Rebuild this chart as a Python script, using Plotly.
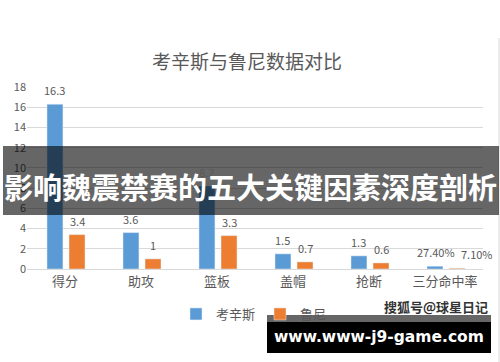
import plotly.graph_objects as go

categories = ["得分", "助攻", "篮板", "盖帽", "抢断", "三分命中率"]
cousins = [16.3, 3.6, 8.2, 1.5, 1.3, 0.274]
rooney = [3.4, 1.0, 3.3, 0.7, 0.6, 0.071]
cousins_labels = ["16.3", "3.6", "8.2", "1.5", "1.3", "27.40%"]
rooney_labels = ["3.4", "1", "3.3", "0.7", "0.6", "7.10%"]
y_ticks = [0, 2, 4, 6, 8, 10, 12, 14, 16, 18]

W, H = 500, 362
L, R, T, B = 27, 483, 87, 269  # plot area in px


def px(x):
    return (x - L) / (R - L)


def py(y):
    return (B - y) / (B - T)


GREY = "#595959"
BLUE = "#5B9BD5"
ORANGE = "#ED7D31"
BW = 0.21
OFF_B = -0.237
OFF_O = 0.053

fig = go.Figure()
fig.add_trace(go.Bar(x=categories, y=cousins, name="考辛斯", marker_color=BLUE,
                     width=BW, offset=OFF_B))
fig.add_trace(go.Bar(x=categories, y=rooney, name="鲁尼", marker_color=ORANGE,
                     width=BW, offset=OFF_O))

annotations = []
for series, labels, off, pshift in ((cousins, cousins_labels, OFF_B, 1), (rooney, rooney_labels, OFF_O, 20)):
    for i, (v, lab) in enumerate(zip(series, labels)):
        annotations.append(dict(
            x=i + off + BW / 2, y=v, xref="x", yref="y", text=lab, showarrow=False,
            xanchor="center", yanchor="middle",
            yshift=14, xshift=pshift if "%" in lab else 0,
            font=dict(size=11, color=GREY, family="Noto Sans CJK SC"),
        ))

# watermark
annotations.append(dict(x=px(436), y=py(306), xref="paper", yref="paper",
                        xanchor="center", yanchor="middle",
                        text="<b>搜狐号@球星日记</b>", showarrow=False,
                        font=dict(size=13, color="#333333", family="Noto Sans CJK SC")))
# banner text
annotations.append(dict(x=px(250), y=py(186), xref="paper", yref="paper",
                        xanchor="center", yanchor="middle",
                        text="<b>影响魏震禁赛的五大关键因素深度剖析</b>", showarrow=False,
                        font=dict(size=29, color="white", family="Noto Sans CJK SC")))
# url text
annotations.append(dict(x=px(379), y=py(337), xref="paper", yref="paper",
                        xanchor="center", yanchor="middle",
                        text="<b>www.www-j9-game.com</b>", showarrow=False,
                        font=dict(size=15.5, color="white", family="DejaVu Sans")))

shapes = [
    # chart right border
    dict(type="line", xref="paper", yref="paper", x0=px(499), x1=px(499),
         y0=py(38), y1=py(362), line=dict(color="#D9D9D9", width=1)),
    # banner
    dict(type="rect", xref="paper", yref="paper", x0=px(3), x1=px(499),
         y0=py(215), y1=py(146), fillcolor="rgba(0,0,0,0.6)", line=dict(width=0), layer="above"),
    # url box
    dict(type="rect", xref="paper", yref="paper", x0=px(267), x1=px(491),
         y0=py(322), y1=py(315), fillcolor="#666666", line=dict(width=0), layer="above"),
    dict(type="rect", xref="paper", yref="paper", x0=px(267), x1=px(491),
         y0=py(353), y1=py(322), fillcolor="#000000", line=dict(width=0), layer="above"),
]

fig.update_layout(
    width=W, height=H,
    margin=dict(l=L, r=W - R, t=T, b=H - B),
    paper_bgcolor="white", plot_bgcolor="white",
    barmode="overlay",
    title=dict(text="考辛斯与鲁尼数据对比", x=247 / W, xanchor="center",
               y=1 - 62 / H, yanchor="middle",
               font=dict(size=19, color=GREY, family="Noto Sans CJK SC")),
    font=dict(family="Noto Sans CJK SC", color=GREY),
    showlegend=True,
    legend=dict(orientation="h", x=px(176), xanchor="left", y=py(314), yanchor="middle",
                font=dict(size=13, color=GREY), itemwidth=30, tracegroupgap=0,
                bgcolor="rgba(0,0,0,0)"),
    xaxis=dict(range=[-0.5, 5.5], showgrid=False, showline=True, linecolor="#D9D9D9",
               linewidth=1, tickfont=dict(size=13, color=GREY), ticks="", fixedrange=True),
    yaxis=dict(range=[0, 18], tickvals=y_ticks, showgrid=True, gridcolor="#D9D9D9",
               gridwidth=1, zeroline=False, showline=False,
               tickfont=dict(size=11, color=GREY), ticks=""),
    annotations=annotations,
    shapes=shapes,
)

fig.write_html("out.html")
